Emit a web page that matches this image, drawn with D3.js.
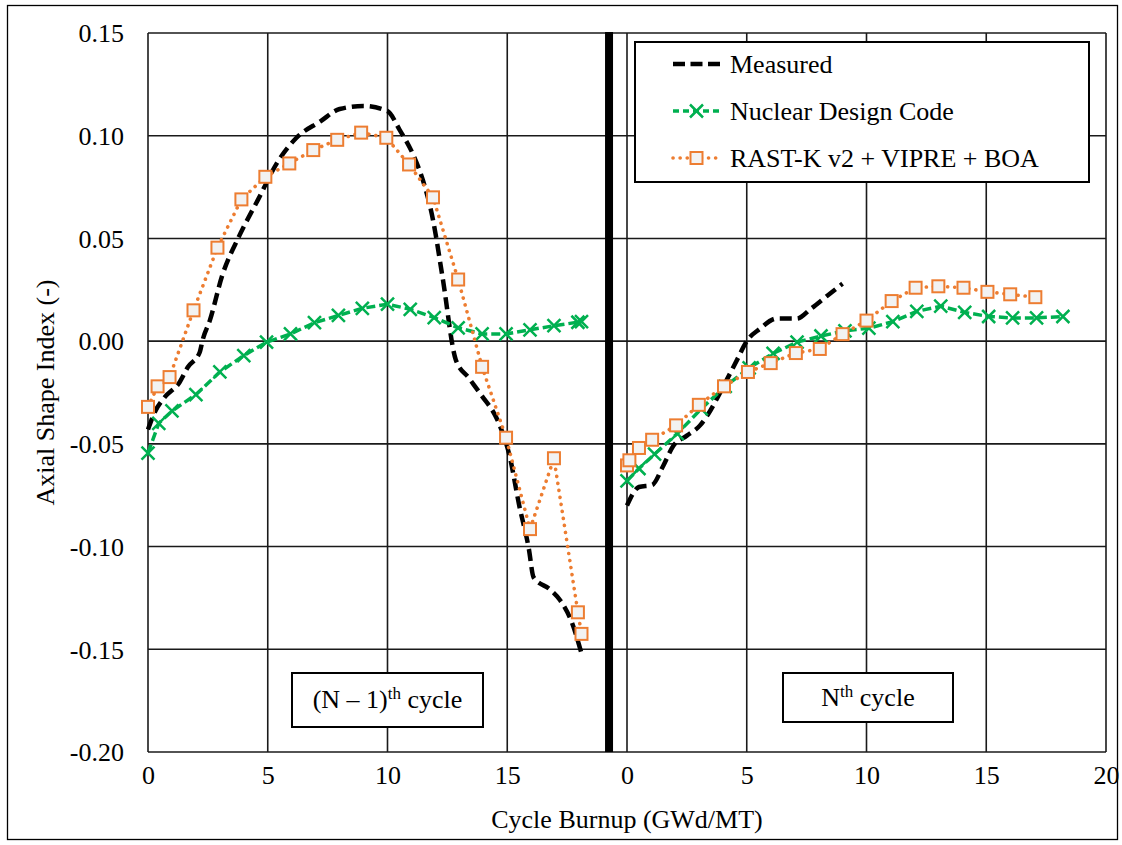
<!DOCTYPE html>
<html>
<head>
<meta charset="utf-8">
<script src="https://cdn.jsdelivr.net/npm/d3@7"></script>
<style>
  html, body { margin: 0; padding: 0; background: #fff; }
  svg text { font-family: "Liberation Serif", "Times New Roman", serif; fill: #000; }
</style>
</head>
<body>
<svg id="chart" width="1122" height="845"></svg>
<script>
// ---------------- DATA ----------------
const yTicks = [0.15, 0.10, 0.05, 0.00, -0.05, -0.10, -0.15, -0.20];
const yTickLabels = ["0.15", "0.10", "0.05", "0.00", "-0.05", "-0.10", "-0.15", "-0.20"];
const xTicksPrev = [0, 5, 10, 15];
const xTicksCur = [0, 5, 10, 15, 20];

const seriesNames = ["Measured", "Nuclear Design Code", "RAST-K v2 + VIPRE + BOA"];

// (N-1)th cycle
const measPrevX = [0, 0.28, 0.7, 1.32, 1.66, 2.16, 2.28, 2.58, 3.1, 3.8, 4.6, 5.4, 6.2, 7.2, 8.0, 9.0, 10.0, 10.5, 11.1, 11.5, 11.9, 12.3, 12.85, 13.4, 13.9, 14.65, 15.1, 15.5, 15.9, 16.1, 16.8, 17.2, 17.7, 18.1];
const measPrevY = [-0.043, -0.0346, -0.0273, -0.020, -0.0127, -0.0054, 0.0005, 0.010, 0.032, 0.051, 0.069, 0.087, 0.099, 0.107, 0.113, 0.1145, 0.112, 0.103, 0.090, 0.0775, 0.059, 0.031, -0.009, -0.018, -0.026, -0.040, -0.056, -0.080, -0.101, -0.115, -0.121, -0.126, -0.137, -0.152];

const ndcPrevX = [0, 0.45, 1.0, 2.0, 3.0, 4.0, 4.95, 5.95, 6.95, 7.95, 8.95, 10.0, 10.95, 11.95, 12.95, 13.95, 14.95, 15.95, 16.95, 17.95, 18.1];
const ndcPrevY = [-0.0545, -0.040, -0.034, -0.026, -0.015, -0.007, -0.0005, 0.0035, 0.009, 0.0125, 0.016, 0.018, 0.0155, 0.0115, 0.0065, 0.0035, 0.0035, 0.0055, 0.0075, 0.0092, 0.0095];

const rastPrevX = [0, 0.4, 0.9, 1.9, 2.9, 3.9, 4.9, 5.9, 6.9, 7.9, 8.9, 9.95, 10.9, 11.9, 12.95, 13.95, 14.95, 15.95, 16.95, 17.95, 18.1];
const rastPrevY = [-0.032, -0.022, -0.0175, 0.015, 0.0455, 0.069, 0.080, 0.0865, 0.093, 0.098, 0.1015, 0.099, 0.086, 0.070, 0.030, -0.0125, -0.047, -0.0915, -0.057, -0.132, -0.1425];

// Nth cycle
const measCurX = [0, 0.5, 1.05, 1.5, 1.93, 2.5, 3.05, 3.47, 3.8, 4.18, 4.6, 5.0, 5.55, 6.25, 7.1, 7.65, 8.35, 9.0];
const measCurY = [-0.080, -0.071, -0.070, -0.061, -0.051, -0.046, -0.041, -0.034, -0.027, -0.0185, -0.009, 0.0, 0.006, 0.011, 0.011, 0.0155, 0.022, 0.028];

const ndcCurX = [0, 0.5, 1.15, 2.1, 3.1, 4.1, 5.1, 6.1, 7.1, 8.1, 9.1, 10.1, 11.1, 12.1, 13.1, 14.1, 15.1, 16.1, 17.1, 18.2];
const ndcCurY = [-0.068, -0.062, -0.055, -0.045, -0.033, -0.022, -0.013, -0.006, -0.0005, 0.0025, 0.005, 0.0063, 0.0095, 0.0145, 0.017, 0.014, 0.012, 0.0113, 0.0113, 0.012];

const rastCurX = [0, 0.1, 0.5, 1.05, 2.05, 3.0, 4.05, 5.05, 6.0, 7.05, 8.05, 9.0, 10.0, 11.05, 12.05, 13.0, 14.05, 15.05, 16.0, 17.05];
const rastCurY = [-0.0605, -0.058, -0.052, -0.048, -0.041, -0.031, -0.022, -0.015, -0.0107, -0.0058, -0.0038, 0.0034, 0.010, 0.0195, 0.026, 0.0267, 0.026, 0.024, 0.0228, 0.0214];

const separatorBurnup = 19.25; // thick divider position on the (N-1)th cycle axis

// ---------------- LAYOUT ----------------
const svg = d3.select("#chart");
const plotL = 148, plotR = 1106, plotT = 33, plotB = 752;
const plotMid = 627;
const xPrev = d3.scaleLinear().domain([0, 20]).range([plotL, plotMid]);
const xCur = d3.scaleLinear().domain([0, 20]).range([plotMid, plotR]);
const y = d3.scaleLinear().domain([-0.20, 0.15]).range([plotB, plotT]);

const colMeas = "#000000", colNdc = "#00B050", colRast = "#ED7D31";

// outer frame
svg.append("rect").attr("x", 7.5).attr("y", 5.5).attr("width", 1110).attr("height", 834)
  .attr("fill", "none").attr("stroke", "#000").attr("stroke-width", 1.3);

// grid
const grid = svg.append("g");
yTicks.forEach(t => {
  grid.append("line").attr("x1", plotL).attr("x2", plotR).attr("y1", y(t)).attr("y2", y(t))
    .attr("stroke", "#1a1a1a").attr("stroke-width", 1.6);
});
xTicksPrev.forEach(t => {
  grid.append("line").attr("x1", xPrev(t)).attr("x2", xPrev(t)).attr("y1", plotT).attr("y2", plotB)
    .attr("stroke", "#1a1a1a").attr("stroke-width", 1.6);
});
xTicksCur.forEach(t => {
  grid.append("line").attr("x1", xCur(t)).attr("x2", xCur(t)).attr("y1", plotT).attr("y2", plotB)
    .attr("stroke", "#1a1a1a").attr("stroke-width", 1.6);
});

// axes via d3 axis (labels only)
const yAxis = d3.axisLeft(y).tickValues(yTicks).tickSize(0).tickPadding(24)
  .tickFormat((d, i) => yTickLabels[i]);
const gy = svg.append("g").attr("transform", `translate(${plotL},0)`).call(yAxis);
gy.select(".domain").remove();
gy.selectAll("text").style("font-size", "26px").style("font-family", '"Liberation Serif", serif').attr("dy", "0.34em");

const xAxisPrev = d3.axisBottom(xPrev).tickValues(xTicksPrev).tickSize(0).tickPadding(14).tickFormat(d3.format("d"));
const gx1 = svg.append("g").attr("transform", `translate(0,${plotB})`).call(xAxisPrev);
gx1.select(".domain").remove();
const xAxisCur = d3.axisBottom(xCur).tickValues(xTicksCur).tickSize(0).tickPadding(14).tickFormat(d3.format("d"));
const gx2 = svg.append("g").attr("transform", `translate(0,${plotB})`).call(xAxisCur);
gx2.select(".domain").remove();
svg.selectAll(".tick text").style("font-size", "26px").style("font-family", '"Liberation Serif", serif').style("fill", "#000");

// axis titles
svg.append("text").attr("x", 627).attr("y", 828).attr("text-anchor", "middle")
  .style("font-size", "26px").text("Cycle Burnup (GWd/MT)");
svg.append("text").attr("transform", `translate(54,${(plotT + plotB) / 2}) rotate(-90)`)
  .attr("text-anchor", "middle").style("font-size", "26px").text("Axial Shape Index (-)");

// thick divider
svg.append("line").attr("x1", xPrev(separatorBurnup)).attr("x2", xPrev(separatorBurnup))
  .attr("y1", plotT - 1).attr("y2", plotB).attr("stroke", "#000").attr("stroke-width", 8);

// ---------------- SERIES ----------------
function pts(xs, ys) { return xs.map((v, i) => [v, ys[i]]); }

const plot = svg.append("g");
function drawMeasured(data, xs) {
  const line = d3.line().x(d => xs(d[0])).y(d => y(d[1])).curve(d3.curveMonotoneX);
  plot.append("path").attr("d", line(data)).attr("fill", "none").attr("stroke", colMeas)
    .attr("stroke-width", 4.5).attr("stroke-dasharray", "12 6");
}
function drawNdc(data, xs) {
  const line = d3.line().x(d => xs(d[0])).y(d => y(d[1]));
  plot.append("path").attr("d", line(data)).attr("fill", "none").attr("stroke", colNdc)
    .attr("stroke-width", 3.5).attr("stroke-dasharray", "9 4");
  const s = 6.5;
  plot.append("g").selectAll("path").data(data).join("path")
    .attr("d", d => {
      const cx = xs(d[0]), cy = y(d[1]);
      return `M${cx - s},${cy - s}L${cx + s},${cy + s}M${cx - s},${cy + s}L${cx + s},${cy - s}`;
    })
    .attr("stroke", colNdc).attr("stroke-width", 2.5).attr("fill", "none");
}
function drawRast(data, xs) {
  const line = d3.line().x(d => xs(d[0])).y(d => y(d[1]));
  plot.append("path").attr("d", line(data)).attr("fill", "none").attr("stroke", colRast)
    .attr("stroke-width", 3.6).attr("stroke-linecap", "round").attr("stroke-dasharray", "0.1 7");
  const s = 12;
  plot.append("g").selectAll("rect").data(data).join("rect")
    .attr("x", d => xs(d[0]) - s / 2).attr("y", d => y(d[1]) - s / 2)
    .attr("width", s).attr("height", s)
    .attr("fill", "#F2F2F2").attr("stroke", colRast).attr("stroke-width", 2);
}

drawMeasured(pts(measPrevX, measPrevY), xPrev);
drawMeasured(pts(measCurX, measCurY), xCur);
drawNdc(pts(ndcPrevX, ndcPrevY), xPrev);
drawNdc(pts(ndcCurX, ndcCurY), xCur);
drawRast(pts(rastPrevX, rastPrevY), xPrev);
drawRast(pts(rastCurX, rastCurY), xCur);

// ---------------- LEGEND ----------------
const lg = svg.append("g");
lg.append("rect").attr("x", 635).attr("y", 42).attr("width", 454).attr("height", 140)
  .attr("fill", "#fff").attr("stroke", "#000").attr("stroke-width", 2);
const rowY = [64, 111, 158];
const lx1 = 673, lx2 = 720, lmid = 696.5;
// Measured
lg.append("line").attr("x1", lx1).attr("x2", lx2).attr("y1", rowY[0]).attr("y2", rowY[0])
  .attr("stroke", colMeas).attr("stroke-width", 4.5).attr("stroke-dasharray", "12 5.5");
// NDC
lg.append("line").attr("x1", lx1).attr("x2", lx2).attr("y1", rowY[1]).attr("y2", rowY[1])
  .attr("stroke", colNdc).attr("stroke-width", 3.5).attr("stroke-dasharray", "6 4");
lg.append("path").attr("d", `M${lmid - 6.5},${rowY[1] - 6.5}L${lmid + 6.5},${rowY[1] + 6.5}M${lmid - 6.5},${rowY[1] + 6.5}L${lmid + 6.5},${rowY[1] - 6.5}`)
  .attr("stroke", colNdc).attr("stroke-width", 2.5);
// RAST
lg.append("line").attr("x1", lx1).attr("x2", lx2).attr("y1", rowY[2]).attr("y2", rowY[2])
  .attr("stroke", colRast).attr("stroke-width", 3.6).attr("stroke-linecap", "round").attr("stroke-dasharray", "0.1 7");
lg.append("rect").attr("x", lmid - 6).attr("y", rowY[2] - 6).attr("width", 12).attr("height", 12)
  .attr("fill", "#F2F2F2").attr("stroke", colRast).attr("stroke-width", 2);
seriesNames.forEach((n, i) => {
  lg.append("text").attr("x", 730).attr("y", rowY[i] + 9).style("font-size", "26px").text(n);
});

// ---------------- CYCLE LABEL BOXES ----------------
svg.append("rect").attr("x", 292).attr("y", 673).attr("width", 191).attr("height", 54)
  .attr("fill", "#fff").attr("stroke", "#000").attr("stroke-width", 2);
const t1 = svg.append("text").attr("x", 387.5).attr("y", 708).attr("text-anchor", "middle").style("font-size", "26px");
t1.append("tspan").text("(N – 1)");
t1.append("tspan").attr("dy", -9).style("font-size", "17px").text("th");
t1.append("tspan").attr("dy", 9).text(" cycle");

svg.append("rect").attr("x", 783).attr("y", 673).attr("width", 170).attr("height", 49)
  .attr("fill", "#fff").attr("stroke", "#000").attr("stroke-width", 2);
const t2 = svg.append("text").attr("x", 868).attr("y", 706).attr("text-anchor", "middle").style("font-size", "26px");
t2.append("tspan").text("N");
t2.append("tspan").attr("dy", -9).style("font-size", "17px").text("th");
t2.append("tspan").attr("dy", 9).text(" cycle");
</script>
</body>
</html>
